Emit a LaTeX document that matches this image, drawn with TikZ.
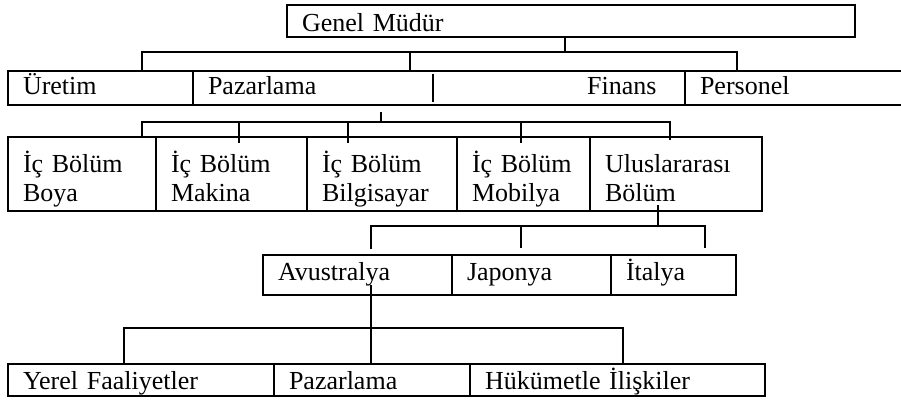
\documentclass[tikz,border=0pt]{standalone}
\usepackage{fontspec}
\setmainfont{Liberation Serif}
\begin{document}
\begin{tikzpicture}[x=1pt,y=-1pt]
\tikzset{
  box/.style={draw, line width=1.8pt, outer sep=0pt, inner ysep=0pt, inner xsep=15pt,
    anchor=north west, align=left, font=\fontsize{26}{29}\selectfont},
  rgm/.style={minimum height=32pt, text height=25.4pt, text depth=4pt},
  rtwo/.style={minimum height=34pt, text height=18pt, text depth=4pt},
  rthree/.style={minimum height=74pt, text height=32pt, text depth=36pt},
  rfour/.style={minimum height=40pt, text height=15pt, text depth=4pt},
  rfive/.style={minimum height=32pt, text height=22pt, text depth=4pt},
  txt/.style={inner sep=0pt, font=\fontsize{26}{29}\selectfont},
  conn/.style={line width=2.2pt},
}
\useasboundingbox (0,0) rectangle (901,401);

% level 0
\node[box, rgm, text width=538pt] (gm) at (287,5) {Genel Müdür};

% level 1
\node[box, rtwo, text width=155pt] (uret) at (8,71) {Üretim};
\node[box, rtwo, text width=462pt] (pazar) at (193,71) {Pazarlama};
\node[box, rtwo, text width=190pt] (pers) at (685,71) {Personel};
\node[txt, anchor=base west] (fin) at (587,95) {Finans};
\draw[line width=1.8pt] (433,74) -- (433,102);

% level 2
\node[box, rthree, text width=118pt] (boya) at (8,137) {İç Bölüm\\Boya};
\node[box, rthree, text width=121pt] (makina) at (156,137) {İç Bölüm\\Makina};
\node[box, rthree, text width=120pt] (bilg) at (307,137) {İç Bölüm\\Bilgisayar};
\node[box, rthree, text width=103pt] (mob) at (457,137) {İç Bölüm\\Mobilya};
\node[box, rthree, text width=142pt] (ulus) at (590,137) {Uluslararası\\Bölüm};

% level 3
\node[box, rfour, text width=159pt] (avus) at (263,255) {Avustralya};
\node[box, rfour, text width=129pt] (jap) at (452,255) {Japonya};
\node[box, rfour, text width=95pt] (ital) at (611,255) {İtalya};

% level 4
\node[box, rfive, text width=236pt] (yerel) at (8,364) {Yerel Faaliyetler};
\node[box, rfive, text width=166pt] (pazar2) at (274,364) {Pazarlama};
\node[box, rfive, text width=265pt] (hukum) at (470,364) {Hükümetle İlişkiler};

% connectors: Genel Müdür
\draw[conn] (gm.south -| 565,0) -- (565,52);
\draw[conn] (uret.north -| 142,0) -- (142,52) -- (737,52) -- (pers.north -| 737,0);
\draw[conn] (410,52) -- (pazar.north -| 410,0);

% connectors: Pazarlama
\draw[conn] ([yshift=-7pt]pazar.south -| 381,0) -- (381,122);
\draw[conn] (boya.north -| 142,0) -- (142,122) -- (670,122) -- ([yshift=-3pt]ulus.north -| 670,0);
\draw[conn] (239,122) -- ([yshift=-6pt]makina.north -| 239,0);
\draw[conn] (348,122) -- ([yshift=-6pt]bilg.north -| 348,0);
\draw[conn] (521,122) -- ([yshift=-6pt]mob.north -| 521,0);

% connectors: Uluslararası Bölüm
\draw[conn] ([yshift=6pt]ulus.south -| 658,0) -- (658,226);
\draw[conn] ([yshift=6pt]avus.north -| 371,0) -- (371,226) -- (705,226) -- ([yshift=7pt]ital.north -| 705,0);
\draw[conn] (521,226) -- ([yshift=7pt]jap.north -| 521,0);

% connectors: Avustralya
\draw[conn] ([yshift=10pt]avus.south -| 371,0) -- (pazar2.north -| 371,0);
\draw[conn] (yerel.north -| 124,0) -- (124,328) -- (623,328) -- (hukum.north -| 623,0);
\end{tikzpicture}
\end{document}
